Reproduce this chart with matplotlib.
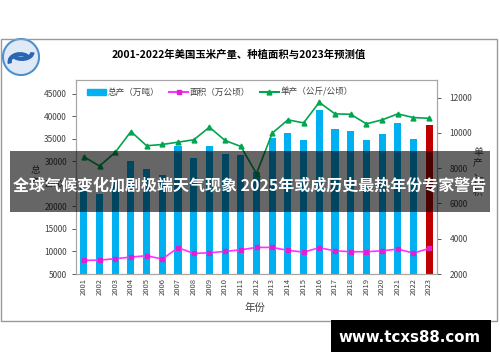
import numpy as np
import matplotlib
matplotlib.use("Agg")
import matplotlib.pyplot as plt
from matplotlib.patches import Rectangle, Circle, Arc
from matplotlib.lines import Line2D

plt.rcParams['font.family'] = ['Noto Sans CJK SC', 'DejaVu Sans']

years = [str(y) for y in range(2001, 2024)]
production = [24140, 22750, 25620, 30040, 28360, 26880, 33290, 30700, 33290, 31670, 31360, 27600,
              35210, 36310, 34770, 41400, 37200, 36600, 34610, 36000, 38520, 34990, 37930]
area = [2774, 2790, 2866, 2960, 3036, 2847, 3490, 3167, 3205, 3282, 3375, 3508,
        3508, 3339, 3243, 3487, 3318, 3262, 3262, 3318, 3412, 3186, 3450]
yield_ = [8650, 8119, 8900, 10079, 9271, 9345, 9475, 9610, 10322, 9570, 9232, 7689,
          9983, 10740, 10570, 11734, 11079, 11056, 10514, 10740, 11079, 10870, 10830]
left_ticks = [5000, 10000, 15000, 20000, 25000, 30000, 35000, 40000, 45000]
right_ticks = [2000, 4000, 6000, 8000, 10000, 12000]

fig = plt.figure(figsize=(5, 3.62), dpi=100)
W, H = 500, 362

# outer chart border
fig.patches.append(Rectangle((1/W, 1-321/H), 496/W, 282/H, transform=fig.transFigure,
                             fill=False, edgecolor='#999999', lw=1))

# logo
lax = fig.add_axes([2/W, 1-76/H, 38/W, 38/H])
lax.set_xlim(-1, 1); lax.set_ylim(-1, 1); lax.axis('off'); lax.set_aspect('equal')
lax.add_patch(Circle((0, 0), 0.95, facecolor='#dfeaf6', edgecolor='#4d8fd1', lw=1.5))
lax.add_patch(Arc((0.05, 0.25), 1.1, 0.7, theta1=200, theta2=360, color='#2a64b4', lw=3))
lax.add_patch(Arc((-0.05, -0.25), 1.1, 0.8, theta1=20, theta2=190, color='#2a64b4', lw=3))

fig.text(239/W, 1-55/H, '2001-2022年美国玉米产量、种植面积与2023年预测值',
         ha='center', va='center', fontsize=7.5, fontweight='bold')

ax = fig.add_axes([76/W, 1-274/H, 361/W, 194/H])
x = np.arange(len(years))
colors = ['#00B0F0'] * (len(years) - 1) + ['#C00000']
ax.bar(x, production, width=0.45, color=colors, zorder=2)
ax.set_xlim(-0.5, len(years) - 0.5)
ax.set_ylim(5000, 48000)
ax.set_yticks(left_ticks)
ax.set_xticks(x)
ax.set_xticklabels(years, rotation=90, fontsize=5.5, color='#404040')
ax.tick_params(axis='y', labelsize=6, colors='#404040', length=3, width=0.6)
ax.tick_params(axis='x', length=0, pad=3)
for s in ax.spines.values():
    s.set_color('#a6a6a6')
    s.set_linewidth(0.8)

ax2 = ax.twinx()
ax2.plot(x, area, color='#FF33FF', lw=1.2, marker='s', markersize=3.5,
         markerfacecolor='#E020D0', markeredgecolor='#E020D0', zorder=3)
ax2.plot(x, yield_, color='#00A550', lw=1.2, marker='^', markersize=3.5, zorder=3)
ax2.set_ylim(2000, 13000)
ax2.set_yticks(right_ticks)
ax2.tick_params(axis='y', labelsize=6, colors='#404040', length=3, width=0.6, pad=6)
for s in ax2.spines.values():
    s.set_color('#a6a6a6')
    s.set_linewidth(0.8)

handles = [Rectangle((0, 0), 1, 1, color='#00B0F0'),
           Line2D([], [], color='#FF33FF', marker='s', markersize=3.5,
                  markerfacecolor='#E020D0', markeredgecolor='#E020D0'),
           Line2D([], [], color='#00A550', marker='^', markersize=3.5)]
ax2.legend(handles, ['总产（万吨）', '面积（万公顷）', '单产（公斤/公顷）'],
           loc='upper left', bbox_to_anchor=(0.01, 1.0), ncol=3, frameon=False,
           fontsize=6.2, handlelength=2.2, handletextpad=0.2, columnspacing=1.1,
           labelcolor='#404040')

fig.text(35/W, 1-176/H, '总\n产', ha='center', va='center', fontsize=7, color='#404040',
         linespacing=1.2)
fig.text(478/W, 1-172/H, '单\n产\n、\n面\n积', ha='center', va='center', fontsize=7,
         color='#404040', linespacing=1.0)
fig.text(255/W, 1-308/H, '年份', ha='center', va='center', fontsize=7.5, color='#404040')

# overlay banner
fig.patches.append(Rectangle((10/W, 1-212/H), 480/W, 61/H, transform=fig.transFigure,
                             facecolor='black', alpha=0.6, edgecolor='none', zorder=10))
fig.text(250/W, 1-186/H, '全球气候变化加剧极端天气现象 2025年或成历史最热年份专家警告',
         ha='center', va='center', fontsize=11.5, fontweight='bold', color='white', zorder=11)

# watermark
fig.patches.append(Rectangle((331/W, 1-352/H), 160/W, 32/H, transform=fig.transFigure,
                             facecolor='black', edgecolor='none', zorder=10))
fig.text(410/W, 1-337/H, 'www.tcxs88.com', ha='center', va='center', fontsize=10.8,
         fontweight='bold', color='white', family='DejaVu Sans', zorder=11)

fig.savefig('out.png', dpi=100)
